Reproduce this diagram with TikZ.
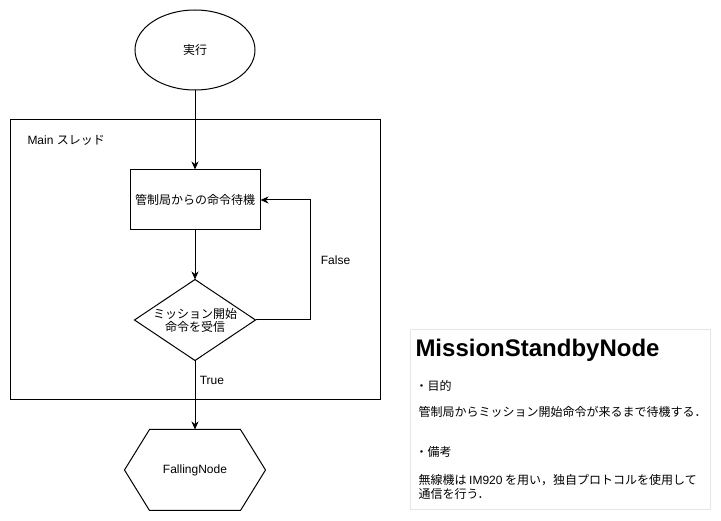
\documentclass[tikz,border=0pt]{standalone}
\usepackage{fontspec}
\setmainfont{Liberation Sans}
\newfontfamily\jp{Noto Sans CJK JP}
\usetikzlibrary{shapes.geometric}
\usetikzlibrary{calc}
\usetikzlibrary{arrows.meta}

\begin{document}
\begin{tikzpicture}[x=1pt,y=-1pt,line width=1pt,font=\fontsize{12}{14}\selectfont,
    >={Stealth[length=8pt,width=7pt,inset=2.5pt]},
    proc/.style={draw,rectangle,minimum width=130pt,minimum height=60pt,inner sep=0pt},
    cond/.style={minimum width=120pt,minimum height=80pt,inner sep=0pt,align=center,font=\jp\fontsize{12}{13}\selectfont},
    note/.style={anchor=west,inner sep=0pt}]
  \useasboundingbox (0,0) rectangle (721,521);
  \node (start) [draw,ellipse,minimum width=120pt,minimum height=80pt] at (195,50) {\jp 実行};
  \node (thread) [draw,rectangle,minimum width=370pt,minimum height=280pt,inner sep=0pt] at (195,260) {};
  \node (tlabel) [anchor=west,inner sep=0pt] at (27,140) {Main {\jp スレッド}};
  \node (wait) [proc] at (195,200) {\jp 管制局からの命令待機};
  \node (recv) [cond] at (195,320) {ミッション開始\\命令を受信};
  \draw (recv.north) -- (recv.east) -- (recv.south) -- (recv.west) -- cycle;
  \node (fall) [minimum width=140pt,minimum height=80pt,inner sep=0pt] at (195,470) {FallingNode};
  \draw ($(fall.north west)+(25,0)$) -- ($(fall.north east)+(-25,0)$) -- (fall.east)
    -- ($(fall.south east)+(-25,0)$) -- ($(fall.south west)+(25,0)$) -- (fall.west) -- cycle;
  \coordinate (loop) at (310,320);
  \path[->]
    (start) edge (wait)
    (wait) edge (recv.north)
    (recv.south) edge node [pos=0.29,right,xshift=1pt] {True} (fall.north);
  \draw[->] (recv.east) -- (loop) -- node [pos=0.5,right,xshift=7pt] {False} (loop |- wait.east) -- (wait.east);
  % note
  \node (memo) [draw=black!10,rectangle,minimum width=300pt,minimum height=180pt,inner sep=0pt] at (560,420) {};
  \node (title) [note,font=\bfseries\fontsize{24}{26}\selectfont] at (415,350) {MissionStandbyNode};
  \node (aim) [note,font=\jp\fontsize{12}{14}\selectfont] at (415,386) {・目的};
  \node (aimtext) [note,font=\jp\fontsize{12}{14}\selectfont] at (418,412) {管制局からミッション開始命令が来るまで待機する．};
  \node (rem) [note,font=\jp\fontsize{12}{14}\selectfont] at (415,452) {・備考};
  \node (remtext) [note,font=\jp\fontsize{12}{14}\selectfont,align=left] at (418,487) {無線機は {\rmfamily IM920} を用い，独自プロトコルを使用して\\通信を行う．};
\end{tikzpicture}
\end{document}
